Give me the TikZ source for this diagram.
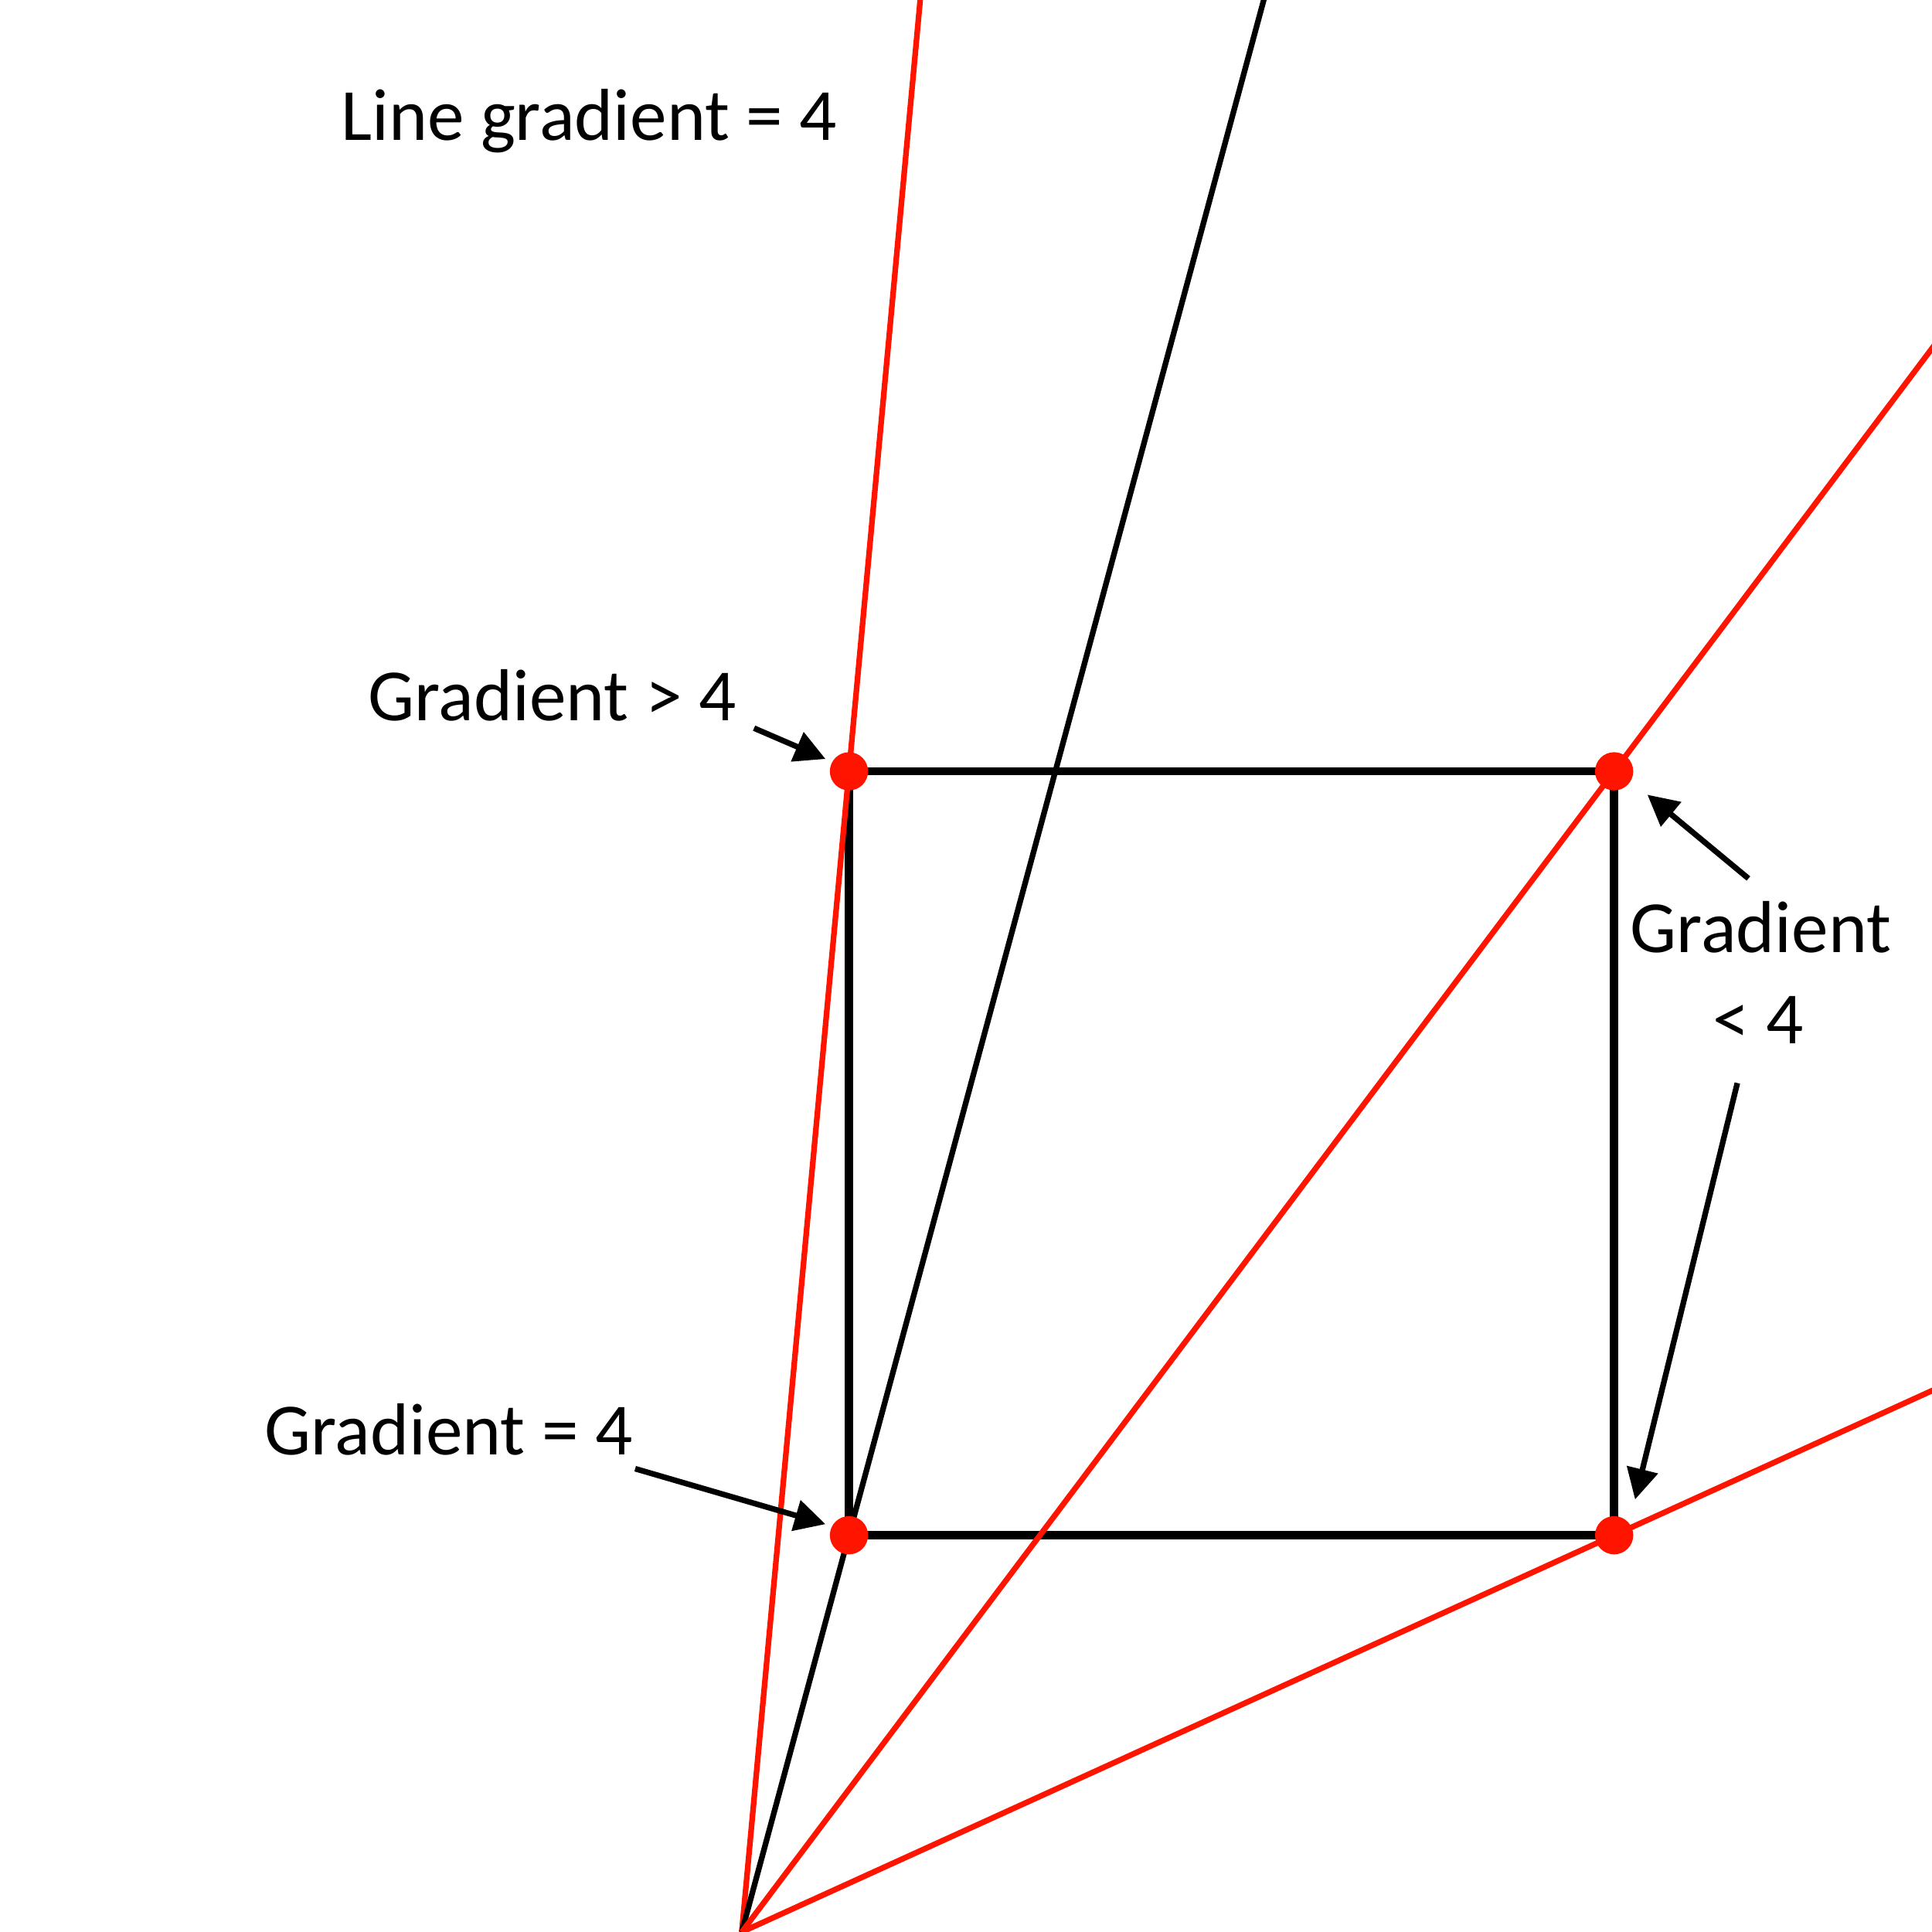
\documentclass[tikz,border=0pt]{standalone}
\usepackage{fontspec}
\setmainfont{Carlito}
\usetikzlibrary{positioning,arrows.meta,calc}
\definecolor{ptred}{RGB}{255,20,0}
\tikzset{
  edgeline/.style={line width=1.9pt},
  rayline/.style={line width=1.3pt},
  ptdot/.style={circle,fill=ptred,inner sep=0pt,minimum size=0.31cm},
  lbl/.style={font=\fontsize{17}{21}\selectfont,inner sep=0pt,anchor=base},
  pointer/.style={line width=1.3pt,-{Triangle[length=0.25cm,width=0.25cm]}}
}

\begin{document}
\begin{tikzpicture}
  \useasboundingbox (0,0) rectangle (15.68,15.68);
  \coordinate (O) at (6.02,0);
  \coordinate (TL) at (6.89,9.42); \coordinate (TR) at (13.10,9.42);
  \coordinate (BL) at (6.89,3.22); \coordinate (BR) at (13.10,3.22);
  % the square
  \draw[edgeline] (TL) -- (TR) -- (BR) -- (BL) -- cycle;
  % rays from the origin, cut at the border
  \begin{scope}
    \clip (0,0) rectangle (15.68,15.68);
    \draw[ptred,rayline] (O) -- ($(O)!1.8!(TL)$);
    \draw[rayline] (O) -- ($(O)!5!(BL)$);
    \draw[ptred,rayline] (O) -- ($(O)!1.5!(TR)$);
    \draw[ptred,rayline] (O) -- ($(O)!1.5!(BR)$);
  \end{scope}
  \foreach \c in {TL,TR,BL,BR}
    \node[ptdot] (dot\c) at (\c) {};
  % labels
  \node[lbl] (title) at (4.78,14.54) {Line gradient = 4};
  \node[lbl] (grGt) at (4.48,9.83) {Gradient > 4};
  \node[lbl] (grEq) at (3.64,3.87) {Gradient = 4};
  \node[lbl] (grLt) at (14.29,7.95) {Gradient};
  \node[lbl] (grLtb) at (14.27,7.21) {< 4};
  % pointers
  \coordinate (p1s) at (6.12,9.77);  \coordinate (p1e) at (6.70,9.52);
  \coordinate (p2s) at (5.155,3.76); \coordinate (p2e) at (6.70,3.31);
  \coordinate (p3s) at (14.19,8.55); \coordinate (p3e) at (13.37,9.23);
  \coordinate (p4s) at (14.10,6.89); \coordinate (p4e) at (13.27,3.51);
  \draw[pointer] (p1s) -- (p1e);
  \draw[pointer] (p2s) -- (p2e);
  \draw[pointer] (p3s) -- (p3e);
  \draw[pointer] (p4s) -- (p4e);
\end{tikzpicture}
\end{document}
